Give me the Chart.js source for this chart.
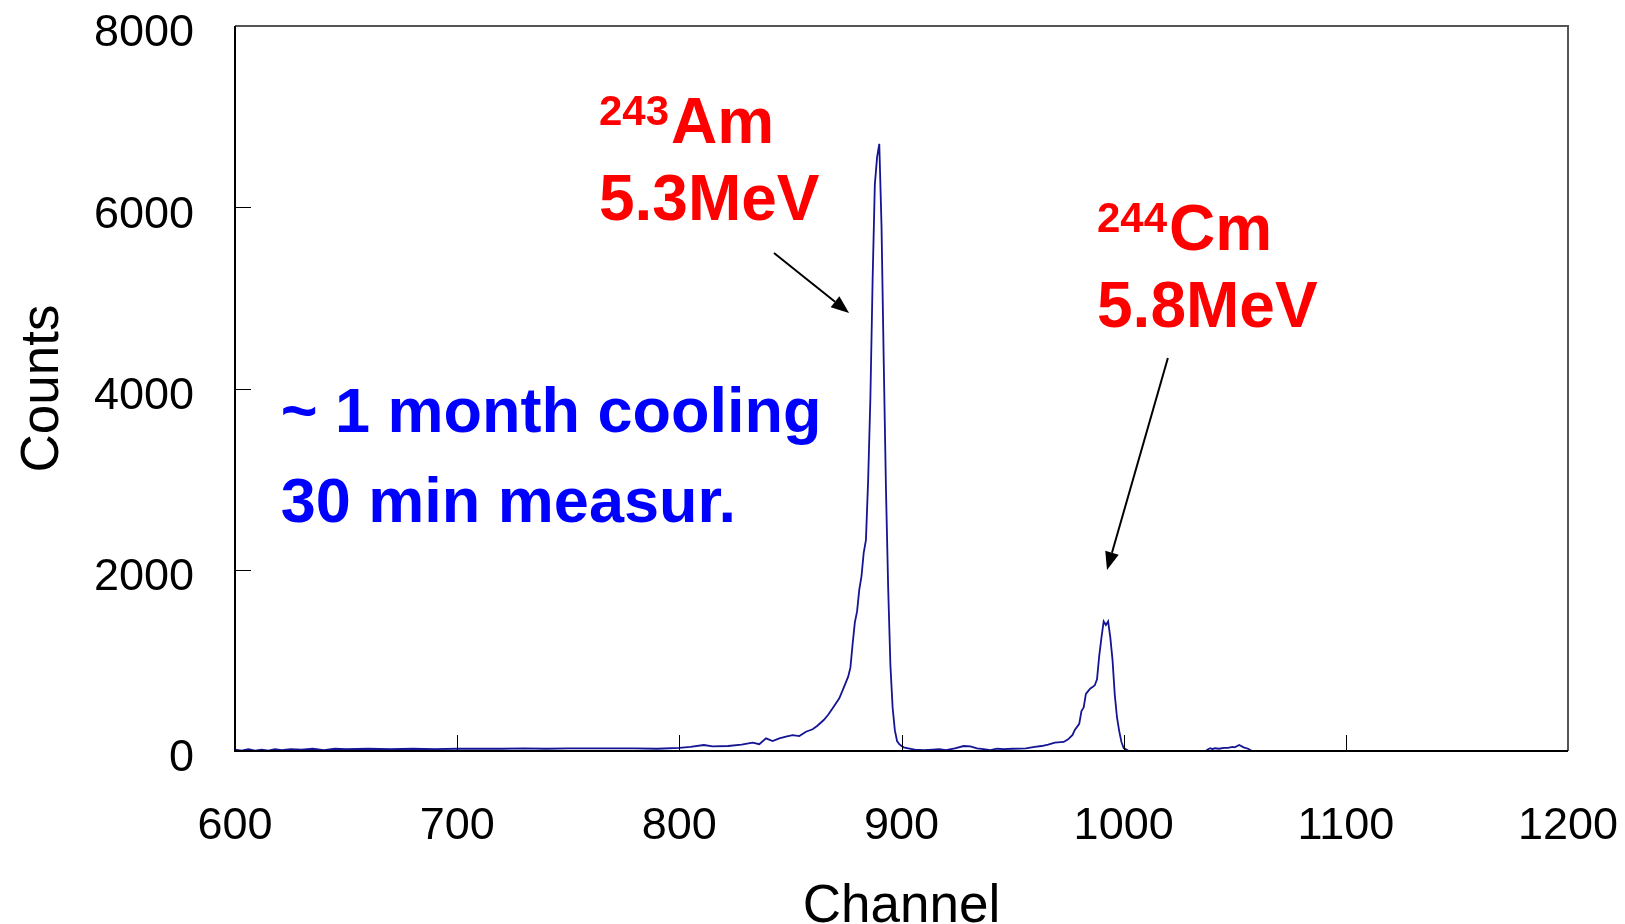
<!DOCTYPE html>
<html>
<head>
<meta charset="utf-8">
<script src="https://cdn.jsdelivr.net/npm/chart.js@4.4.1/dist/chart.umd.min.js"></script>
<style>
  html, body { margin: 0; padding: 0; background: #ffffff; }
  #wrap { width: 1625px; height: 924px; }
</style>
</head>
<body>
<div id="wrap"><canvas id="c" width="1625" height="924"></canvas></div>
<script>
// ---- data ----
const channels = [600,603,606,609,612,615,618,621,625,630,635,640,645,650,660,670,680,690,700,710,720,730,740,750,760,770,780,790,800,805,811,815,822,828,833,836,839,842,845,848,851,854,857,860,862,865,867,869,872,874,876,877,878,879,880,881,882,883,884,885,886,887,888,889,890,891,892,893,894,895,896,897,898,899,900,901,903,906,910,914,917,920,924,928,931,934,937,940,943,946,950,956,960,963,966,969,973,975,977,978,980,981,982,983,984,985,986,987,988,989,990,991,992,993,994,995,996,997,998,999,1000,1002,1003,1037,1038,1039,1040,1041,1043,1045,1047,1049,1050,1052,1054,1056,1057,1058,1200];
const counts   = [15,5,20,5,15,5,20,10,20,15,25,10,25,20,25,20,25,20,25,25,25,30,25,30,30,30,30,25,35,45,66,50,55,70,92,75,140,110,140,158,176,165,213,240,276,342,400,471,581,700,820,920,1180,1420,1540,1780,1930,2190,2330,3000,3900,5200,6250,6550,6700,5800,4300,2900,1800,950,480,230,110,75,55,40,30,15,10,15,20,10,30,55,50,30,20,10,25,20,25,30,45,55,70,92,100,129,177,232,300,440,480,630,660,690,705,725,790,1050,1250,1430,1390,1430,1250,1000,620,370,220,100,33,5,0,0,20,30,20,30,25,35,35,45,40,66,40,25,10,0,0];

const xTicks = [600, 700, 800, 900, 1000, 1100, 1200];
const yTicks = [0, 2000, 4000, 6000, 8000];

const xTitle = 'Channel';
const yTitle = 'Counts';

const noteLines = ['~ 1 month cooling', '30 min measur.'];
const amLabel = { sup: '243', el: 'Am', energy: '5.3MeV' };
const cmLabel = { sup: '244', el: 'Cm', energy: '5.8MeV' };

// annotation anchors in data units [channel, counts]
const noteAnchor = [620.6, 3520];
const amAnchor = [763.8, 6709];
const cmAnchor = [988.0, 5528];
const amArrow = [[842.6, 5495], [876.4, 4833]];
const cmArrow = [[1019.9, 4337], [992.5, 1997]];

const points = channels.map((c, i) => ({ x: c, y: counts[i] }));

const FONT = '"Liberation Sans", Arial, "DejaVu Sans", sans-serif';

const frameAndTicks = {
  id: 'frameAndTicks',
  afterDraw(chart) {
    const { ctx, chartArea: a, scales } = chart;
    ctx.save();
    ctx.strokeStyle = '#000000';
    ctx.lineWidth = 1;
    xTicks.forEach(v => {
      const px = Math.round(scales.x.getPixelForValue(v)) + 0.5;
      ctx.beginPath(); ctx.moveTo(px, a.bottom); ctx.lineTo(px, a.bottom - 16); ctx.stroke();
    });
    yTicks.forEach(v => {
      const py = Math.round(scales.y.getPixelForValue(v)) + 0.5;
      ctx.beginPath(); ctx.moveTo(a.left, py); ctx.lineTo(a.left + 16, py); ctx.stroke();
    });
    ctx.lineWidth = 2;
    ctx.strokeStyle = '#555555';
    ctx.beginPath();
    ctx.moveTo(a.left, a.top); ctx.lineTo(a.right, a.top); ctx.lineTo(a.right, a.bottom);
    ctx.stroke();
    ctx.strokeStyle = '#000000';
    ctx.beginPath();
    ctx.moveTo(a.left, a.top); ctx.lineTo(a.left, a.bottom); ctx.lineTo(a.right, a.bottom);
    ctx.stroke();
    ctx.restore();
  }
};

function arrow(ctx, x0, y0, x1, y1) {
  const ang = Math.atan2(y1 - y0, x1 - x0);
  const len = 18, hw = 7;
  const bx = x1 - len * Math.cos(ang), by = y1 - len * Math.sin(ang);
  ctx.beginPath(); ctx.moveTo(x0, y0); ctx.lineTo(bx, by); ctx.stroke();
  ctx.beginPath();
  ctx.moveTo(x1, y1);
  ctx.lineTo(bx + hw * Math.sin(ang), by - hw * Math.cos(ang));
  ctx.lineTo(bx - hw * Math.sin(ang), by + hw * Math.cos(ang));
  ctx.closePath(); ctx.fill();
}

const annotations = {
  id: 'annotations',
  afterDraw(chart) {
    const { ctx, scales } = chart;
    const X = v => scales.x.getPixelForValue(v);
    const Y = v => scales.y.getPixelForValue(v);
    ctx.save();
    ctx.textBaseline = 'alphabetic';
    ctx.textAlign = 'left';
    ctx.fillStyle = '#0000ff';
    ctx.font = 'bold 63px ' + FONT;
    ctx.fillText(noteLines[0], X(noteAnchor[0]), Y(noteAnchor[1]));
    ctx.fillText(noteLines[1], X(noteAnchor[0]), Y(noteAnchor[1]) + 90);
    [amLabel, cmLabel].forEach((lab, i) => {
      const anc = i === 0 ? amAnchor : cmAnchor;
      const x0 = X(anc[0]), y0 = Y(anc[1]);
      ctx.fillStyle = '#ff0000';
      ctx.font = 'bold 42px ' + FONT;
      ctx.fillText(lab.sup, x0, y0 - 18);
      const w = ctx.measureText(lab.sup).width;
      ctx.font = 'bold 64px ' + FONT;
      ctx.fillText(lab.el, x0 + w + 2, y0);
      ctx.fillText(lab.energy, x0, y0 + 77);
    });
    ctx.strokeStyle = '#000000';
    ctx.fillStyle = '#000000';
    ctx.lineWidth = 2;
    [amArrow, cmArrow].forEach(ar => {
      arrow(ctx, X(ar[0][0]), Y(ar[0][1]), X(ar[1][0]), Y(ar[1][1]));
    });
    ctx.restore();
  }
};

new Chart(document.getElementById('c'), {
  type: 'scatter',
  data: {
    datasets: [{
      data: points,
      showLine: true,
      borderColor: '#141494',
      borderWidth: 1.8,
      pointRadius: 0,
      pointHoverRadius: 0,
      fill: false,
      tension: 0
    }]
  },
  options: {
    responsive: false,
    animation: false,
    events: [],
    layout: { padding: { left: 0, right: 57, top: 26, bottom: 0 } },
    plugins: { legend: { display: false }, tooltip: { enabled: false } },
    scales: {
      x: {
        type: 'linear',
        min: 600, max: 1200,
        afterBuildTicks: s => { s.ticks = xTicks.map(v => ({ value: v })); },
        afterFit: s => { s.height = 173; s.paddingLeft = 0; s.paddingRight = 0; s.paddingTop = 0; s.paddingBottom = 0; },
        grid: { display: false, drawTicks: false },
        border: { display: false },
        ticks: {
          color: '#000000',
          padding: 53,
          maxRotation: 0,
          callback: v => String(v),
          font: { family: FONT, size: 45, lineHeight: 1 }
        },
        title: {
          display: true, text: xTitle, color: '#000000',
          font: { family: FONT, size: 53, lineHeight: 1 },
          padding: { top: 0, bottom: -10 }
        }
      },
      y: {
        type: 'linear',
        min: 0, max: 8000,
        afterBuildTicks: s => { s.ticks = yTicks.map(v => ({ value: v })); },
        afterFit: s => { s.width = 235; s.paddingLeft = 0; s.paddingRight = 0; s.paddingTop = 0; s.paddingBottom = 0; },
        grid: { display: false, drawTicks: false },
        border: { display: false },
        ticks: {
          color: '#000000',
          padding: 41,
          labelOffset: 8,
          callback: v => String(v),
          font: { family: FONT, size: 45, lineHeight: 1 }
        },
        title: {
          display: true, text: yTitle, color: '#000000',
          font: { family: FONT, size: 53, lineHeight: 1.2 },
          padding: { top: 12, bottom: 0 }
        }
      }
    }
  },
  plugins: [frameAndTicks, annotations]
});
</script>
</body>
</html>
